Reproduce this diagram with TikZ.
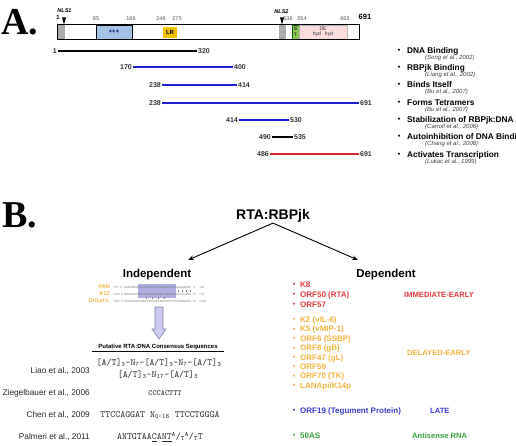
\documentclass[tikz,border=0pt]{standalone}
\usepackage{fontspec}
\setmainfont{Liberation Sans}
\newfontfamily\panelfont{Liberation Serif}
\usetikzlibrary{arrows.meta,positioning}

\definecolor{fragblue}{HTML}{1E1ED2}
\definecolor{fragred}{HTML}{D8262B}
\definecolor{basicblue}{HTML}{A3C4E8}
\definecolor{lrgold}{HTML}{F2C200}
\definecolor{stgreen}{HTML}{8CC84B}
\definecolor{depink}{HTML}{FADCDC}
\definecolor{nlsgray}{HTML}{ABABAB}
\definecolor{iered}{HTML}{E53A3F}
\definecolor{degold}{HTML}{F3B43C}
\definecolor{lateblue}{HTML}{3B3BD3}
\definecolor{asgreen}{HTML}{38A23E}
\definecolor{boxlav}{HTML}{AFAFE6}
\definecolor{arrowlav}{HTML}{CACAF3}

\newcommand\fsz[1]{\fontsize{#1}{#1}\selectfont}

\begin{document}
\begin{tikzpicture}[x=1pt,y=-1pt,
  panel/.style={font=\panelfont\bfseries\fsz{38}, anchor=base west, inner sep=0pt},
  dom/.style={minimum height=14pt, inner sep=0pt},
  resnum/.style={font=\fsz{5.5}, text=black!65, inner sep=0pt},
  nls/.style={font=\bfseries\itshape\fsz{5.5}, inner sep=0pt},
  num/.style={font=\bfseries\fsz{7}, text=black!80, inner sep=1pt},
  frag/.style={line width=2.4pt},
  func/.style={font=\bfseries\fsz{8.3}, anchor=west, inner sep=0pt},
  paper/.style={font=\itshape\fsz{6}, text=black!75, anchor=west, inner sep=0pt},
  bul/.style={font=\bfseries\fsz{7}, inner sep=0pt},
  branch/.style={font=\bfseries\fsz{11.5}, anchor=base, inner sep=1pt},
  seqname/.style={font=\bfseries\fsz{5.5}, text=degold, anchor=east, inner sep=0pt},
  seq/.style={font=\ttfamily\fsz{3.5}, text=black!55, anchor=west, inner sep=0pt},
  study/.style={font=\fsz{8.3}, text=black!85, anchor=east, inner sep=0pt},
  motif/.style={font=\ttfamily\fsz{9.5}, text=black!85, inner sep=0pt},
  gene/.style={font=\bfseries\fsz{8}, anchor=west, inner sep=0pt},
  phase/.style={font=\bfseries\fsz{7.6}, anchor=west, inner sep=0pt}]
  \useasboundingbox (0,0) rectangle (516,446);

  % A: domain map of RTA
  \node[panel] (labA) at (1,35) {A.};
  \node[dom, fill=white, minimum width=301pt] (rtabar) at (208.5,32) {};
  \node[dom, fill=nlsgray, minimum width=7pt] (nls1box) at (61.5,32) {};
  \node[dom, fill=basicblue, draw, line width=0.4pt, minimum width=36pt, font=\bfseries\fsz{6}, text=blue!40!black] (basic) at (114,32) {+++};
  \node[dom, fill=lrgold, minimum width=14pt, minimum height=10.5pt, font=\bfseries\fsz{6}] (lr) at (170,32.3) {LR};
  \node[dom, fill=nlsgray, minimum width=7pt] (nls2box) at (282.5,32) {};
  \node[dom, fill=stgreen, draw=green!40!black, line width=0.4pt, minimum width=7pt, font=\bfseries\fontsize{5}{5.5}\selectfont, text=black!80, align=center] (st) at (295.5,32) {S\\T};
  \node[dom, fill=depink, draw=black!30, line width=0.3pt, minimum width=48pt, font=\fsz{5}, align=center, text=black!80] (de) at (323,32) {DE\\hyd\hspace{4pt}hyd};
  \draw[line width=1pt] (rtabar.north west) rectangle (rtabar.south east);

  \node[resnum] (r85) at (96,19) {85};
  \node[resnum] (r166) at (131,19) {166};
  \node[resnum] (r246) at (161,19) {246};
  \node[resnum] (r275) at (177,19) {275};
  \node[resnum] (r538) at (288,19) {538};
  \node[resnum] (r554) at (302,19) {554};
  \node[resnum] (r665) at (345,19) {665};
  \node[font=\bfseries\fsz{7.5}, inner sep=0pt] (r691) at (365,17) {691};
  \node[font=\bfseries\fsz{6}, inner sep=0pt] (r1) at (58,17) {1};

  \node[nls] (nls1) at (64.5,11) {NLS1};
  \fill (62,17.5) -- (66,17.5) -- (64,24.5) -- cycle;
  \node[nls] (nls2) at (281.5,12) {NLS2};
  \fill (280,17.5) -- (284,17.5) -- (282,24.5) -- cycle;

  \foreach \n/\a/\b/\xa/\xb/\y/\col in {1/1/320/58/197/51/black, 2/170/400/133/233/67/fragblue,
      3/238/414/162/237/85/fragblue, 4/238/691/162/359/103/fragblue, 5/414/530/239/289/120/fragblue,
      6/490/535/272/293/137/black, 7/486/691/270/359/154/fragred}
  {
    \node[num, anchor=east] (fa\n) at (\xa,\y) {\a};
    \node[num, anchor=west] (fb\n) at (\xb,\y) {\b};
    \draw[frag, \col] (fa\n.east) -- (fb\n.west);
  }

  \foreach \n/\y/\t/\c in {1/51/{DNA Binding}/{(Song et al., 2002)},
      2/68/{RBPjk Binding}/{(Liang et al., 2002)},
      3/85/{Binds Itself}/{(Bu et al., 2007)},
      4/103/{Forms Tetramers}/{(Bu et al., 2007)},
      5/120/{Stabilization of RBPjk:DNA}/{(Carroll et al., 2006)},
      6/137/{Autoinhibition of DNA Binding}/{(Chang et al., 2008)},
      7/155/{Activates Transcription}/{(Lukac et al., 1999)}}
  {
    \node[bul] (fd\n) at (399,\y) {\textbullet};
    \node[func] (ft\n) at (407,\y) {\t};
    \node[paper] (fc\n) at (425,\y+7) {\c};
  }

  % B: RTA:RBPjk dependence
  \node[panel] (labB) at (2,227) {B.};
  \node[font=\bfseries\fsz{14}, anchor=base, inner sep=1pt] (complex) at (273,219) {RTA:RBPjk};
  \node[branch] (indep) at (157,277) {Independent};
  \node[branch] (dep) at (386,277) {Dependent};
  \coordinate (ltip) at (188,260);
  \coordinate (rtip) at (358,260);
  \path[-{Stealth[length=6pt,width=4.5pt]}, line width=0.9pt]
    (complex.south) edge (ltip)
    (complex.south) edge (rtip);

  \fill[boxlav] (138,284) rectangle (176,297.5);
  \foreach \n/\y/\nm/\l/\s/\r in {1/287/PAN/-76/AAATGGGTGGCTAACCTGTCCAAAATATGGGAACAC/-45,
      2/294/K12/-100/GGGTGGCTAACCTGCCCAAAATATGGGAATTCCAGG/-72,
      3/301/OriLyt-L/-245/CCCTGGGAACACTTCCCTAAACACTTTTCCAGGATG/-216}
  {
    \node[seqname] (sn\n) at (110,\y) {\nm};
    \node[seq] (sl\n) at (112,\y) {\l\ 5'};
    \node[seq] (ss\n) at (124,\y) {\s};
    \node[seq] (sr\n) at (193,\y) {3'\ \r};
  }
  \foreach \tx in {178,182,186,190}
    \draw[black!50, line width=0.25pt] (\tx,289.5) -- (\tx,291.5);
  \foreach \tx in {146,152,158,164}
    \draw[black!50, line width=0.25pt] (\tx,296.5) -- (\tx,298.5);
  \filldraw[fill=arrowlav, draw=black!35!arrowlav, line width=0.6pt]
    (155,307) -- (163,307) -- (163,329) -- (166,329) -- (159,339) -- (152,329) -- (155,329) -- cycle;

  \node[font=\bfseries\fsz{6}, inner sep=1pt] (cons) at (158,347) {Putative RTA:DNA Consensus Sequences};
  \draw[line width=0.6pt] ([xshift=-5pt]cons.south west) -- ([xshift=5pt]cons.south east);

  \node[study] (liao) at (90,371) {Liao et al., 2003};
  \node[motif] (m1) at (159,363) {[A/T]\textsubscript{3}-N\textsubscript{7}-[A/T]\textsubscript{3}-N\textsubscript{7}-[A/T]\textsubscript{3}};
  \node[motif] (m2) at (158,375) {[A/T]\textsubscript{3}-N\textsubscript{17}-[A/T]\textsubscript{3}};
  \node[study] (zieg) at (90,393) {Ziegelbauer et al., 2006};
  \node[motif, font=\ttfamily\fsz{7.8}] (m3) at (165,393) {CCCACTTT};
  \node[study] (chen) at (90,415) {Chen et al., 2009};
  \node[motif] (m4) at (160,415) {TTCCAGGAT N\textsubscript{0-16} TTCCTGGGA};
  \node[study] (palm) at (90,437) {Palmeri et al., 2011};
  \node[motif] (m5) at (160,437) {ANTGTAA\underline{C}A\underline{N}\underline{T}\textsuperscript{A}/\textsubscript{T}\textsuperscript{A}/\textsubscript{T}T};

  \foreach \n/\y/\g in {1/285/K8, 2/295/{ORF50 (RTA)}, 3/305/ORF57}
  {
    \node[bul, text=iered] (ib\n) at (294,\y) {\textbullet};
    \node[gene, text=iered] (ie\n) at (300,\y) {\g};
  }
  \node[phase, text=iered] (iephase) at (404,295) {IMMEDIATE-EARLY};

  \foreach \n/\y/\g in {1/320/{K2 (vIL-6)}, 2/329.5/{K5 (vMIP-1)}, 3/339/{ORF6 (SSBP)},
      4/348.5/{ORF8 (gB)}, 5/358/{ORF47 (gL)}, 6/367/ORF59, 7/376.5/{ORF70 (TK)}, 8/386/{LANApi/K14p}}
  {
    \node[bul, text=degold] (db\n) at (294,\y) {\textbullet};
    \node[gene, text=degold] (de\n) at (300,\y) {\g};
  }
  \node[phase, text=degold] (dephase) at (407,353) {DELAYED-EARLY};

  \node[bul, text=lateblue] (lb1) at (294,411) {\textbullet};
  \node[gene, text=lateblue] (late1) at (300,411) {ORF19 (Tegument Protein)};
  \node[phase, text=lateblue] (latephase) at (430,411) {LATE};

  \node[bul, text=asgreen] (ab1) at (294,436) {\textbullet};
  \node[gene, text=asgreen] (as1) at (300,436) {50AS};
  \node[phase, text=asgreen] (asphase) at (412,436) {Antisense RNA};
\end{tikzpicture}
\end{document}
